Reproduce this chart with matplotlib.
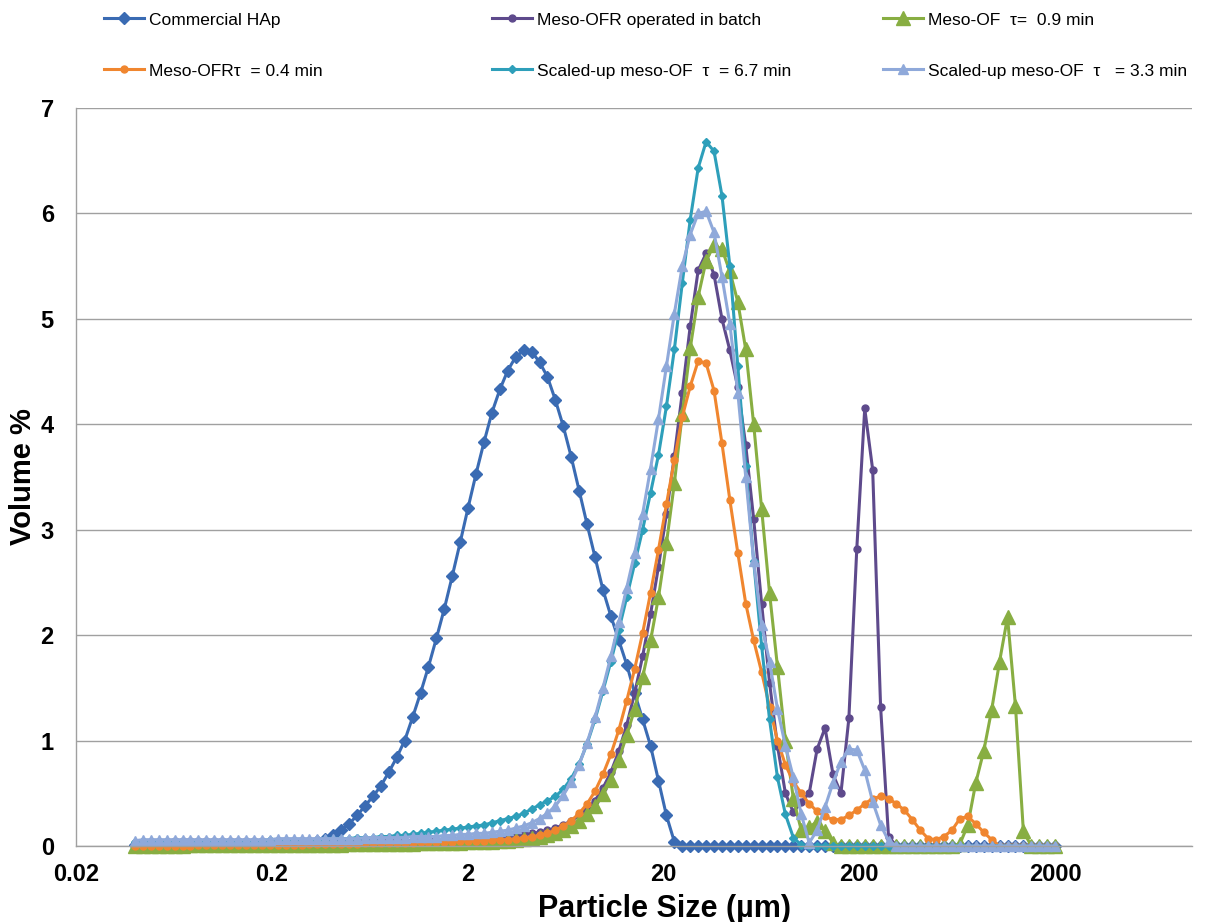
import matplotlib
matplotlib.use("Agg")
import matplotlib.pyplot as plt
from matplotlib.ticker import NullLocator

plt.rcParams["font.family"] = ["Liberation Sans", "DejaVu Sans"]

# Laser-diffraction size classes (µm), 0.04 - 2000 µm
sizes = [
    0.04000, 0.04391, 0.04821, 0.05292, 0.05809, 0.06377, 0.07000, 0.07685, 0.08436, 0.09261,
    0.1017, 0.1116, 0.1225, 0.1345, 0.1476, 0.1621, 0.1779, 0.1953, 0.2144, 0.2354,
    0.2584, 0.2836, 0.3114, 0.3418, 0.3752, 0.4119, 0.4522, 0.4964, 0.5449, 0.5982,
    0.6567, 0.7209, 0.7914, 0.8688, 0.9537, 1.0467, 1.1490, 1.2614, 1.3847, 1.5201,
    1.6687, 1.8319, 2.0110, 2.2076, 2.4234, 2.6604, 2.9205, 3.2060, 3.5194, 3.8635,
    4.2412, 4.6559, 5.1111, 5.6107, 6.1593, 6.7608, 7.4218, 8.1474, 8.9439, 9.8182,
    10.778, 11.832, 12.988, 14.258, 15.652, 17.182, 18.862, 20.706, 22.730, 24.952,
    27.391, 30.069, 33.008, 36.235, 39.777, 43.666, 47.935, 52.621, 57.765, 63.412,
    69.611, 76.417, 83.887, 92.088, 101.09, 110.97, 121.82, 133.73, 146.80, 161.15,
    176.91, 194.20, 213.19, 234.03, 256.91, 282.02, 309.59, 339.86, 373.08, 409.56,
    449.59, 493.55, 541.80, 594.76, 652.90, 716.73, 786.80, 863.72, 948.16, 1040.8,
    1142.6, 1254.3, 1376.9, 1511.5, 1659.3, 1821.5, 2000.0,
]

commercial_hap = [
    0.01, 0.01, 0.01, 0.01, 0.01, 0.01, 0.01, 0.01, 0.02, 0.02,
    0.02, 0.02, 0.02, 0.02, 0.02, 0.02, 0.02, 0.03, 0.03, 0.03,
    0.03, 0.035, 0.04, 0.05, 0.07, 0.10, 0.15, 0.21, 0.29, 0.38,
    0.47, 0.57, 0.70, 0.84, 1.00, 1.22, 1.45, 1.70, 1.97, 2.25,
    2.56, 2.88, 3.21, 3.53, 3.83, 4.11, 4.33, 4.51, 4.64, 4.70,
    4.69, 4.59, 4.45, 4.23, 3.98, 3.69, 3.37, 3.05, 2.74, 2.43,
    2.18, 1.95, 1.72, 1.45, 1.20, 0.95, 0.62, 0.29, 0.04, 0,
    0, 0, 0, 0, 0, 0, 0, 0, 0, 0,
    0, 0, 0, 0, 0, 0, 0, 0, 0, 0,
    0, 0, 0, 0, 0, 0, 0, 0, 0, 0,
    0, 0, 0, 0, 0, 0, 0, 0, 0, 0,
    0, 0, 0, 0, 0, 0, 0,
]

meso_ofr_batch = [
    0.03, 0.04, 0.04, 0.04, 0.04, 0.05, 0.05, 0.05, 0.05, 0.05,
    0.05, 0.05, 0.05, 0.05, 0.05, 0.05, 0.05, 0.05, 0.05, 0.05,
    0.05, 0.05, 0.05, 0.05, 0.05, 0.05, 0.05, 0.05, 0.05, 0.05,
    0.05, 0.05, 0.05, 0.05, 0.05, 0.05, 0.06, 0.06, 0.06, 0.06,
    0.07, 0.07, 0.07, 0.08, 0.08, 0.08, 0.09, 0.09, 0.10, 0.11,
    0.12, 0.13, 0.15, 0.17, 0.20, 0.24, 0.29, 0.35, 0.43, 0.55,
    0.70, 0.90, 1.15, 1.45, 1.80, 2.20, 2.65, 3.15, 3.70, 4.30,
    4.93, 5.46, 5.62, 5.42, 5.00, 4.70, 4.35, 3.80, 3.10, 2.30,
    1.55, 0.95, 0.50, 0.32, 0.42, 0.50, 0.92, 1.12, 0.68, 0.50,
    1.21, 2.82, 4.15, 3.57, 1.32, 0.09, 0, 0, 0, 0,
    0, 0, 0, 0, 0, 0, 0, 0, 0, 0,
    0, 0, 0, 0, 0, 0, 0,
]

meso_of_09 = [
    0, 0, 0, 0, 0, 0, 0, 0.01, 0.01, 0.01,
    0.01, 0.01, 0.01, 0.01, 0.01, 0.01, 0.01, 0.01, 0.01, 0.01,
    0.01, 0.01, 0.01, 0.01, 0.01, 0.01, 0.01, 0.02, 0.02, 0.02,
    0.02, 0.02, 0.02, 0.02, 0.02, 0.02, 0.03, 0.03, 0.03, 0.03,
    0.03, 0.03, 0.04, 0.04, 0.04, 0.04, 0.05, 0.05, 0.06, 0.07,
    0.08, 0.09, 0.10, 0.12, 0.15, 0.19, 0.24, 0.30, 0.38, 0.49,
    0.63, 0.82, 1.05, 1.30, 1.60, 1.95, 2.36, 2.87, 3.44, 4.10,
    4.72, 5.21, 5.55, 5.70, 5.66, 5.45, 5.16, 4.71, 4.00, 3.20,
    2.40, 1.70, 1.00, 0.45, 0.15, 0.18, 0.23, 0.14, 0.03, 0,
    0, 0, 0, 0, 0, 0, 0, 0, 0, 0,
    0, 0, 0, 0, 0.02, 0.20, 0.60, 0.90, 1.29, 1.75,
    2.17, 1.33, 0.14, 0, 0, 0, 0,
]

meso_ofr_04 = [
    0, 0, 0, 0, 0, 0, 0, 0, 0.01, 0.01,
    0.01, 0.01, 0.01, 0.01, 0.01, 0.01, 0.01, 0.01, 0.01, 0.01,
    0.01, 0.01, 0.02, 0.02, 0.02, 0.02, 0.02, 0.02, 0.02, 0.03,
    0.03, 0.03, 0.03, 0.03, 0.03, 0.03, 0.04, 0.04, 0.04, 0.04,
    0.04, 0.05, 0.05, 0.05, 0.05, 0.06, 0.06, 0.06, 0.065, 0.075,
    0.085, 0.10, 0.12, 0.15, 0.19, 0.24, 0.31, 0.40, 0.52, 0.68,
    0.87, 1.10, 1.38, 1.68, 2.02, 2.40, 2.81, 3.24, 3.66, 4.07,
    4.36, 4.60, 4.58, 4.32, 3.82, 3.28, 2.78, 2.30, 1.95, 1.65,
    1.32, 1.00, 0.77, 0.61, 0.50, 0.40, 0.33, 0.28, 0.25, 0.25,
    0.29, 0.34, 0.40, 0.45, 0.47, 0.45, 0.40, 0.34, 0.25, 0.15,
    0.07, 0.06, 0.09, 0.15, 0.26, 0.28, 0.21, 0.13, 0.06, 0,
    0, 0, 0, 0, 0, 0, 0,
]

scaled_up_67 = [
    0.04, 0.05, 0.05, 0.05, 0.05, 0.05, 0.05, 0.05, 0.05, 0.05,
    0.05, 0.05, 0.05, 0.05, 0.05, 0.05, 0.05, 0.06, 0.06, 0.06,
    0.06, 0.06, 0.06, 0.06, 0.07, 0.07, 0.07, 0.07, 0.08, 0.08,
    0.08, 0.09, 0.09, 0.10, 0.10, 0.11, 0.12, 0.13, 0.14, 0.15,
    0.16, 0.17, 0.18, 0.19, 0.20, 0.22, 0.24, 0.26, 0.28, 0.31,
    0.35, 0.39, 0.43, 0.47, 0.54, 0.64, 0.78, 0.97, 1.20, 1.47,
    1.75, 2.05, 2.36, 2.68, 3.00, 3.35, 3.71, 4.17, 4.71, 5.34,
    5.94, 6.43, 6.68, 6.59, 6.17, 5.50, 4.55, 3.60, 2.70, 1.90,
    1.20, 0.65, 0.30, 0.08, 0.01, 0, 0, 0, 0, 0,
    0, 0, 0, 0, 0, 0, 0, 0, 0, 0,
    0, 0, 0, 0, 0, 0, 0, 0, 0, 0,
    0, 0, 0, 0, 0, 0, 0,
]

scaled_up_33 = [
    0.05, 0.06, 0.06, 0.06, 0.06, 0.06, 0.06, 0.06, 0.06, 0.06,
    0.06, 0.06, 0.06, 0.06, 0.06, 0.06, 0.06, 0.06, 0.07, 0.07,
    0.07, 0.07, 0.07, 0.07, 0.07, 0.07, 0.07, 0.07, 0.07, 0.08,
    0.08, 0.08, 0.08, 0.08, 0.08, 0.09, 0.09, 0.09, 0.09, 0.10,
    0.10, 0.11, 0.11, 0.12, 0.12, 0.13, 0.14, 0.15, 0.17, 0.19,
    0.22, 0.26, 0.31, 0.38, 0.48, 0.61, 0.77, 0.98, 1.22, 1.50,
    1.80, 2.12, 2.45, 2.78, 3.15, 3.58, 4.05, 4.55, 5.05, 5.50,
    5.80, 6.00, 6.02, 5.82, 5.40, 4.95, 4.30, 3.50, 2.70, 2.10,
    1.75, 1.30, 0.95, 0.65, 0.30, 0.03, 0.15, 0.37, 0.60, 0.80,
    0.92, 0.91, 0.72, 0.42, 0.20, 0.05, 0, 0, 0, 0,
    0, 0, 0, 0, 0, 0, 0, 0, 0, 0,
    0, 0, 0, 0, 0, 0, 0,
]

labels = [
    "Commercial HAp",
    "Meso-OFR operated in batch",
    "Meso-OF  \u03c4=  0.9 min",
    "Meso-OFR\u03c4  = 0.4 min",
    "Scaled-up meso-OF  \u03c4  = 6.7 min",
    "Scaled-up meso-OF  \u03c4   = 3.3 min",
]
values = [commercial_hap, meso_ofr_batch, meso_of_09, meso_ofr_04, scaled_up_67, scaled_up_33]
styles = [
    dict(color="#3A6BB3", marker="D", ms=6.0),
    dict(color="#5E4A8C", marker="o", ms=5.0),
    dict(color="#88AE42", marker="^", ms=10.0),
    dict(color="#F0862F", marker="o", ms=5.0),
    dict(color="#2E9FBA", marker="D", ms=3.6),
    dict(color="#8FA9DA", marker="^", ms=7.0),
]

W, H = 1205, 922
fig = plt.figure(figsize=(W / 100, H / 100), dpi=100)
ax = fig.add_axes([76 / W, (H - 846) / H, (1192 - 76) / W, (846 - 108) / H])

handles = []
for lab, vals, st in zip(labels, values, styles):
    (h,) = ax.plot(sizes, vals, color=st["color"], lw=2.2, marker=st["marker"],
                   ms=st["ms"], mfc=st["color"], mec=st["color"], clip_on=False,
                   label=lab)
    handles.append(h)

ax.set_xscale("log")
ax.set_xlim(0.02, 10000)
ax.set_ylim(0, 7)
ax.set_xticks([0.02, 0.2, 2, 20, 200, 2000])
ax.set_xticklabels(["0.02", "0.2", "2", "20", "200", "2000"])
ax.xaxis.set_minor_locator(NullLocator())
ax.set_yticks(range(8))

ax.grid(axis="y", color="#A0A0A0", lw=1.0)
ax.set_axisbelow(True)
for s in ("top", "right"):
    ax.spines[s].set_visible(False)
for s in ("left", "bottom"):
    ax.spines[s].set_color("#A0A0A0")
    ax.spines[s].set_linewidth(1.0)

ax.tick_params(axis="both", length=0, labelsize=17)
ax.tick_params(axis="x", pad=12)
ax.tick_params(axis="y", pad=16)
for t in ax.get_xticklabels() + ax.get_yticklabels():
    t.set_fontweight("bold")

ax.set_xlabel("Particle Size (\u00b5m)", fontsize=22, fontweight="bold", labelpad=6)
ax.xaxis.set_label_coords((664 - 76) / (1192 - 76), -0.065)
ax.set_ylabel("Volume %", fontsize=21, fontweight="bold")
ax.yaxis.set_label_coords(-(76 - 37) / (1192 - 76), 0.5)

# Legend laid out in two rows of three entries
col_x = [104 / W, 492 / W, 883 / W]
row_y = [1 - 20 / H, 1 - 71 / H]
for n, (h, lab) in enumerate(zip(handles, labels)):
    r, c = divmod(n, 3)
    fig.legend([h], [lab], loc="center left", bbox_to_anchor=(col_x[c], row_y[r]),
               frameon=False, fontsize=12.5, handlelength=2.3, handletextpad=0.3,
               borderpad=0, borderaxespad=0, numpoints=1)

fig.savefig("out.png", dpi=100)
